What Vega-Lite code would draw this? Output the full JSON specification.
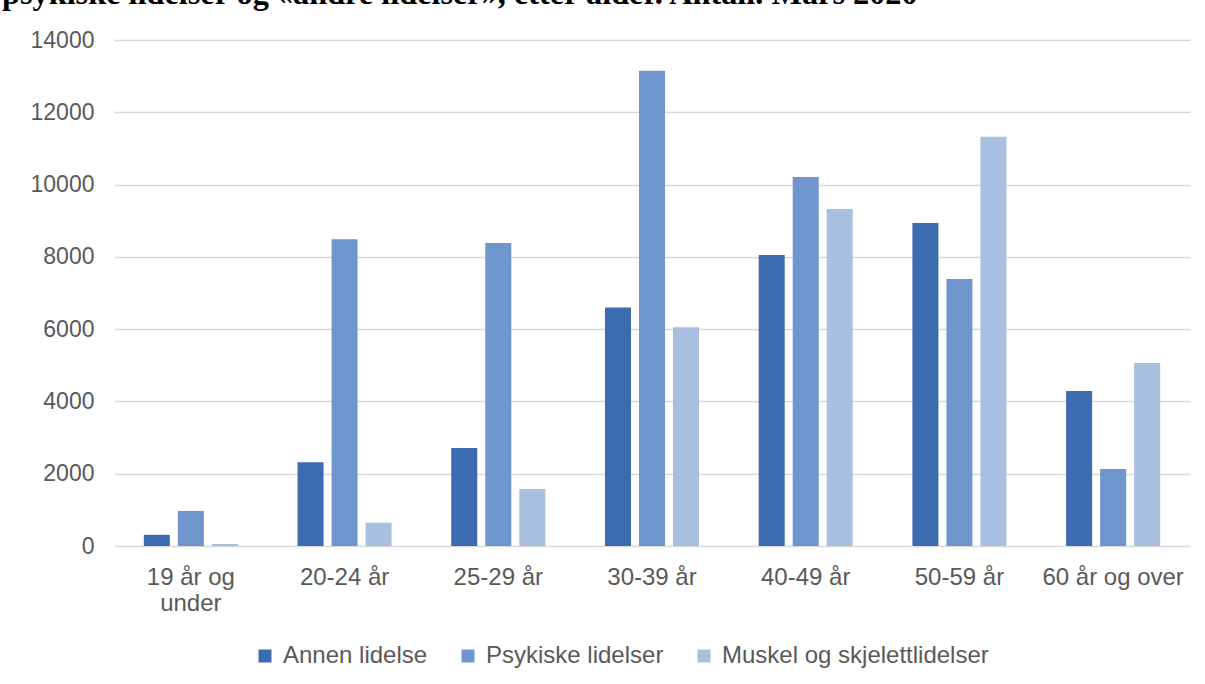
{
  "$schema": "https://vega.github.io/schema/vega-lite/v6.json",
  "width": 1076,
  "height": 506,
  "autosize": {"type": "none"},
  "padding": {"left": 114, "top": 40, "right": 15, "bottom": 138},
  "background": "white",
  "title": {
    "text": "psykiske lidelser og «andre lidelser», etter alder. Antall. Mars 2020",
    "font": "Liberation Serif",
    "fontSize": 32.3,
    "fontWeight": "bold",
    "color": "black",
    "anchor": "start",
    "frame": "group",
    "baseline": "alphabetic",
    "dx": -112,
    "offset": 0,
    "dy": 7
  },
  "data": {
    "values": [
      {"alder": "19 år og under", "type": "Annen lidelse", "antall": 310},
      {"alder": "19 år og under", "type": "Psykiske lidelser", "antall": 970},
      {"alder": "19 år og under", "type": "Muskel og skjelettlidelser", "antall": 55},
      {"alder": "20-24 år", "type": "Annen lidelse", "antall": 2320},
      {"alder": "20-24 år", "type": "Psykiske lidelser", "antall": 8490},
      {"alder": "20-24 år", "type": "Muskel og skjelettlidelser", "antall": 640},
      {"alder": "25-29 år", "type": "Annen lidelse", "antall": 2710},
      {"alder": "25-29 år", "type": "Psykiske lidelser", "antall": 8380},
      {"alder": "25-29 år", "type": "Muskel og skjelettlidelser", "antall": 1580},
      {"alder": "30-39 år", "type": "Annen lidelse", "antall": 6600},
      {"alder": "30-39 år", "type": "Psykiske lidelser", "antall": 13150},
      {"alder": "30-39 år", "type": "Muskel og skjelettlidelser", "antall": 6050},
      {"alder": "40-49 år", "type": "Annen lidelse", "antall": 8050},
      {"alder": "40-49 år", "type": "Psykiske lidelser", "antall": 10210},
      {"alder": "40-49 år", "type": "Muskel og skjelettlidelser", "antall": 9325},
      {"alder": "50-59 år", "type": "Annen lidelse", "antall": 8940},
      {"alder": "50-59 år", "type": "Psykiske lidelser", "antall": 7390},
      {"alder": "50-59 år", "type": "Muskel og skjelettlidelser", "antall": 11320},
      {"alder": "60 år og over", "type": "Annen lidelse", "antall": 4290},
      {"alder": "60 år og over", "type": "Psykiske lidelser", "antall": 2130},
      {"alder": "60 år og over", "type": "Muskel og skjelettlidelser", "antall": 5065}
    ]
  },
  "mark": {"type": "bar"},
  "encoding": {
    "x": {
      "field": "alder",
      "type": "nominal",
      "sort": ["19 år og under", "20-24 år", "25-29 år", "30-39 år", "40-49 år", "50-59 år", "60 år og over"],
      "scale": {"paddingInner": 0.336, "paddingOuter": 0.168},
      "axis": {
        "title": null,
        "labelAngle": 0,
        "labelFont": "Liberation Sans",
        "labelFontSize": 24,
        "labelColor": "#595959",
        "labelPadding": 19,
        "labelLineHeight": 26,
        "labelLimit": 300,
        "labelExpr": "datum.label == '19 år og under' ? ['19 år og', 'under'] : datum.label",
        "domain": false,
        "ticks": false,
        "grid": false
      }
    },
    "xOffset": {
      "field": "type",
      "sort": ["Annen lidelse", "Psykiske lidelser", "Muskel og skjelettlidelser"],
      "scale": {"paddingInner": 0.235, "paddingOuter": 0.1175}
    },
    "y": {
      "field": "antall",
      "type": "quantitative",
      "scale": {"domain": [0, 14000], "nice": false},
      "axis": {
        "title": null,
        "values": [0, 2000, 4000, 6000, 8000, 10000, 12000, 14000],
        "format": "d",
        "labelFont": "Liberation Sans",
        "labelFontSize": 23,
        "labelColor": "#595959",
        "labelPadding": 20,
        "domain": false,
        "ticks": false,
        "gridColor": "#D9D9D9",
        "gridWidth": 1.5
      }
    },
    "color": {
      "field": "type",
      "type": "nominal",
      "scale": {
        "domain": ["Annen lidelse", "Psykiske lidelser", "Muskel og skjelettlidelser"],
        "range": ["#3D6BAF", "#6E96CC", "#A9BFE0"]
      },
      "legend": {
        "title": null,
        "orient": "none",
        "direction": "horizontal",
        "legendX": 139,
        "legendY": 604,
        "symbolType": "square",
        "symbolSize": 169,
        "symbolStrokeWidth": 0,
        "labelFont": "Liberation Sans",
        "labelFontSize": 24,
        "labelColor": "#595959",
        "labelOffset": 6,
        "labelLimit": 400,
        "columnPadding": 28
      }
    }
  },
  "config": {"view": {"stroke": null}}
}
